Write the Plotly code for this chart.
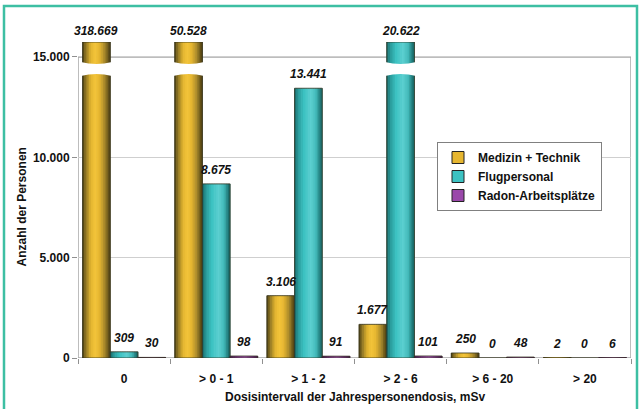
import plotly.graph_objects as go

# ---------------- data ----------------
categories = ["0", "> 0 - 1", "> 1 - 2", "> 2 - 6", "> 6 - 20", "> 20"]
series_names = ["Medizin + Technik", "Flugpersonal", "Radon-Arbeitsplätze"]
medizin = [318669, 50528, 3106, 1677, 250, 2]
flug = [309, 8675, 13441, 20622, 0, 0]
radon = [30, 98, 91, 101, 48, 6]
y_tickvals = [0, 5000, 10000, 15000]
y_ticktext = ["0", "5.000", "10.000", "15.000"]

# ---------------- style ----------------
W, H = 640, 409
L, R, T, B = 78, 9, 42, 51
CAP = 15745          # visual cap for broken bars (top of plot area)
BOX_TOP = 15000
BAR_W = 0.3
FONT = "Liberation Sans, Arial, sans-serif"

gradients = [
    [(0.0, "#4a3c10"), (0.12, "#8c7424"), (0.3, "#e0b22e"), (0.45, "#f3c53a"),
     (0.62, "#e6b630"), (0.82, "#a4862a"), (1.0, "#4a3c10")],
    [(0.0, "#176565"), (0.15, "#2a9c9c"), (0.35, "#3cc2c2"), (0.6, "#5ccfd0"),
     (0.8, "#40b8b8"), (0.92, "#24807f"), (1.0, "#176565")],
    [(0.0, "#4a1a55"), (0.3, "#8a3a9a"), (0.55, "#a855b8"), (0.8, "#7a3088"), (1.0, "#4a1a55")],
]
legend_colors = ["#e6b630", "#3cc2c2", "#9a48aa"]


def hex2rgb(h):
    h = h.lstrip("#")
    return tuple(int(h[i:i + 2], 16) for i in (0, 2, 4))


def grad_color(stops, t):
    for (t0, c0), (t1, c1) in zip(stops[:-1], stops[1:]):
        if t0 <= t <= t1:
            f = (t - t0) / (t1 - t0) if t1 > t0 else 0
            a, b = hex2rgb(c0), hex2rgb(c1)
            return "rgb(%d,%d,%d)" % tuple(round(a[i] + (b[i] - a[i]) * f) for i in range(3))
    return stops[-1][1]


def fmt(v):
    return f"{v:,}".replace(",", ".")


fig = go.Figure()
all_series = [medizin, flug, radon]
N = 16
for k, vals in enumerate(all_series):
    centers = [i + (k - 1) * BAR_W for i in range(len(categories))]
    disp = [min(v, CAP) for v in vals]
    for j in range(N):
        t = (j + 0.5) / N
        off = -BAR_W / 2 + (j + 0.5) * BAR_W / N
        fig.add_trace(go.Bar(
            x=[c + off for c in centers], y=disp, width=BAR_W / N * 1.4,
            marker=dict(color=grad_color(gradients[k], t), line=dict(width=0)),
            showlegend=False, hoverinfo="skip"))
    # outline
    fig.add_trace(go.Bar(
        x=centers, y=disp, width=BAR_W,
        marker=dict(color="rgba(0,0,0,0)", line=dict(color="#333320", width=0.8)),
        showlegend=False, hoverinfo="skip"))
    # legend entry
    fig.add_trace(go.Bar(
        x=[None], y=[None], name=series_names[k],
        marker=dict(color=legend_colors[k], line=dict(color="#222", width=1))))

shapes = []
annotations = []
# plot box
shapes.append(dict(type="rect", xref="x", yref="y", x0=-0.5, x1=len(categories) - 0.5,
                   y0=0, y1=BOX_TOP, line=dict(color="#a8a8a8", width=1.5), layer="below"))

for k, vals in enumerate(all_series):
    for i, v in enumerate(vals):
        c = i + (k - 1) * BAR_W
        d = min(v, CAP)
        annotations.append(dict(
            x=c, y=d, xref="x", yref="y", text=fmt(v), showarrow=False,
            yanchor="bottom", yshift=2 if v > CAP else 5,
            font=dict(family=FONT, size=12, weight="bold", style="italic", color="#111")))
        if v > CAP:
            xl, xr = c - BAR_W / 2 - 0.02, c + BAR_W / 2 + 0.02
            path = (f"M {xl},14750 Q {c},14550 {xr},14750 "
                    f"L {xr},14050 Q {c},14250 {xl},14050 Z")
            shapes.append(dict(type="path", xref="x", yref="y", path=path,
                               fillcolor="white", line=dict(width=0), layer="above"))


def px_x(p):
    return (p - L) / (W - L - R)


def px_y(p):
    return (H - B - p) / (H - T - B)


# outer teal frame
shapes.append(dict(type="rect", xref="paper", yref="paper",
                   x0=px_x(4), x1=px_x(637), y0=px_y(415), y1=px_y(6),
                   line=dict(color="#3dbfa3", width=2.5)))

annotations.append(dict(x=0.5, y=0, xref="paper", yref="paper",
                        text="Dosisintervall der Jahrespersonendosis, mSv",
                        showarrow=False, yanchor="middle", yshift=-(397 - (H - B)),
                        font=dict(family=FONT, size=12, weight="bold", color="#111")))
annotations.append(dict(x=0, y=BOX_TOP / 2, xref="paper", yref="y",
                        text="Anzahl der Personen", textangle=-90, showarrow=False,
                        xanchor="center", xshift=-56,
                        font=dict(family=FONT, size=12, weight="bold", color="#111")))

fig.update_layout(
    width=W, height=H,
    margin=dict(l=L, r=R, t=T, b=B, pad=0),
    paper_bgcolor="white", plot_bgcolor="white",
    barmode="overlay",
    showlegend=True,
    legend=dict(x=px_x(437), y=px_y(142), xanchor="left", yanchor="top",
                bgcolor="white", bordercolor="#808080", borderwidth=1,
                font=dict(family=FONT, size=12, weight="bold", color="#111"),
                itemwidth=30, tracegroupgap=0),
    shapes=shapes, annotations=annotations,
    xaxis=dict(range=[-0.5, len(categories) - 0.5], tickmode="array",
               tickvals=list(range(len(categories))), ticktext=categories,
               ticks="", showgrid=False, zeroline=False, showline=False,
               ticklabelstandoff=12,
               tickfont=dict(family=FONT, size=12, weight="bold", color="#111"),
               minor=dict(tickmode="array",
                          tickvals=[i - 0.5 for i in range(len(categories) + 1)],
                          ticks="outside", ticklen=5, tickcolor="#909090", showgrid=False)),
    yaxis=dict(range=[0, CAP], tickmode="array", tickvals=y_tickvals, ticktext=y_ticktext,
               ticks="outside", ticklen=5, tickcolor="#909090",
               showgrid=True, gridcolor="#cfcfcf", gridwidth=1, zeroline=False, showline=False,
               tickfont=dict(family=FONT, size=12, weight="bold", color="#111")),
    font=dict(family=FONT),
)

fig.write_html("out.html", config={"displayModeBar": False},
               post_script="document.body.style.margin='0px';"
               "document.body.style.overflow='hidden';")
